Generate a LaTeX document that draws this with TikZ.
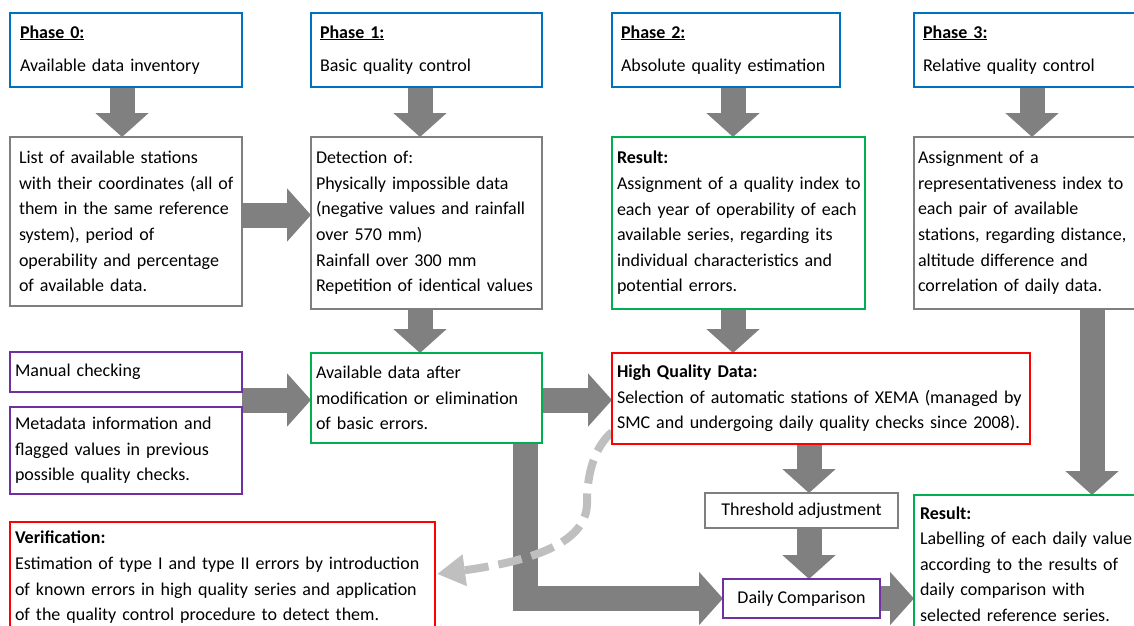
\documentclass[tikz,border=0pt]{standalone}
\usepackage{fontspec}
\setmainfont{Carlito}
\usetikzlibrary{arrows.meta,backgrounds,calc}
\definecolor{cblue}{RGB}{0,112,192}
\definecolor{cgray}{RGB}{127,127,127}
\definecolor{cgreen}{RGB}{0,176,80}
\definecolor{cpurple}{RGB}{112,48,160}
\definecolor{cred}{RGB}{255,0,0}
\definecolor{carrow}{RGB}{128,128,128}
\definecolor{cdash}{RGB}{191,191,191}
\newcommand\txtfont{\fontsize{18pt}{25.6pt}\selectfont}
\newcommand\phase[1]{\underline{\textbf{#1}}}
\begin{document}
\begin{tikzpicture}[x=1pt,y=-1pt,
  box/.style={draw, line width=2.2pt, fill=white, anchor=north west, align=left,
    font=\txtfont, inner xsep=0pt, inner ysep=0pt, outer sep=0pt},
  lpad/.style={execute at begin node={\leftskip=#1pt\rightskip=-60pt plus 1fil}},
  cbox/.style={draw, line width=2.2pt, fill=white, anchor=north west, align=center,
    font=\txtfont, inner sep=0pt, outer sep=0pt},
  bluebox/.style={box, draw=cblue},
  graybox/.style={box, draw=cgray},
  greenbox/.style={box, draw=cgreen},
  purplebox/.style={box, draw=cpurple},
  redbox/.style={box, draw=cred},
  blockarrow/.style={draw=carrow, line width=25pt, -{Triangle[width=52pt,length=24pt]}},
  dasharrow/.style={draw=cdash, line width=8pt, dash pattern=on 24pt off 10pt,
    -{Triangle[width=30pt,length=28pt]}},
]
\useasboundingbox (0,0) rectangle (1134,625);

% phase boxes
\node[bluebox, lpad=10, text width=232pt, minimum height=74pt] (p0) at (10,13)
  {\phase{Phase 0:}\\[8pt]Available data inventory};
\node[bluebox, lpad=9, text width=231pt, minimum height=74pt] (p1) at (311,13)
  {\phase{Phase 1:}\\[8pt]Basic quality control};
\node[bluebox, lpad=9, text width=228pt, minimum height=74pt] (p2) at (612,13)
  {\phase{Phase 2:}\\[8pt]Absolute quality estimation};
\node[bluebox, lpad=9, text width=240pt, minimum height=74pt] (p3) at (914,13)
  {\phase{Phase 3:}\\[8pt]Relative quality control};

% second row
\node[graybox, lpad=9, text width=232pt, minimum height=169pt] (list) at (10,137)
  {List of available stations\\with their coordinates (all of\\them in the same reference\\system), period of\\operability and percentage\\of available data.};
\node[graybox, lpad=5, text width=231pt, minimum height=172pt] (det) at (311,137)
  {Detection of:\\Physically impossible data\\(negative values and rainfall\\over 570 mm)\\Rainfall over 300 mm\\Repetition of identical values};
\node[greenbox, lpad=5, text width=253pt, minimum height=172pt] (res) at (612,137)
  {\textbf{Result:}\\Assignment of a quality index to\\each year of operability of each\\available series, regarding its\\individual characteristics and\\potential errors.};
\node[graybox, lpad=4, text width=240pt, minimum height=172pt] (r3) at (914,137)
  {Assignment of a\\representativeness index to\\each pair of available\\stations, regarding distance,\\altitude difference and\\correlation of daily data.};

% third row
\node[purplebox, lpad=5, text width=232pt, minimum height=40pt] (manual) at (10,352)
  {Manual checking};
\node[purplebox, lpad=5, text width=232pt, minimum height=87pt] (meta) at (10,407)
  {Metadata information and\\flagged values in previous\\possible quality checks.};
\node[greenbox, lpad=5, text width=231pt, minimum height=90pt] (avail) at (311,353)
  {Available data after\\modification or elimination\\of basic errors.};
\node[redbox, lpad=5, text width=418pt, minimum height=91pt] (hq) at (612,353)
  {\textbf{High Quality Data:}\\Selection of automatic stations of XEMA (managed by\\SMC and undergoing daily quality checks since 2008).};

% lower part
\node[cbox, draw=cgray, minimum width=193pt, minimum height=35pt] (thr) at (705,493)
  {Threshold adjustment};
\node[cbox, draw=cpurple, minimum width=157pt, minimum height=39pt] (daily) at (723,579)
  {Daily Comparison};
\node[greenbox, lpad=6, text width=240pt, minimum height=138pt] (fin) at (914,495)
  {\textbf{Result:}\\Labelling of each daily value\\according to the results of\\daily comparison with\\selected reference series.};
\node[redbox, lpad=5, text width=425pt, minimum height=111pt] (ver) at (10,522)
  {\textbf{Verification:}\\Estimation of type I and type II errors by introduction\\of known errors in high quality series and application\\of the quality control procedure to detect them.};

% helper coordinates
\coordinate (c0) at (122,0);
\coordinate (c1) at (420,0);
\coordinate (c2) at (733,0);
\coordinate (c3) at (1032,0);
\coordinate (c3b) at (1092,0);
\coordinate (c4) at (809,0);
\coordinate (cL) at (525,0);
\coordinate (r1) at (0,215);
\coordinate (mm) at (242,400);
\coordinate (dstart) at (612,432);
\coordinate (dend) at (437,574);

\begin{pgfonlayer}{background}
\draw[blockarrow] (p0.south -| c0) -- (list.north -| c0);
\draw[blockarrow] (p1.south -| c1) -- (det.north -| c1);
\draw[blockarrow] (p2.south -| c2) -- (res.north -| c2);
\draw[blockarrow] (p3.south -| c3) -- (r3.north -| c3);
\draw[blockarrow] (list.east |- r1) -- (det.west |- r1);
\draw[blockarrow] (det.south -| c1) -- (avail.north -| c1);
\draw[blockarrow] (res.south -| c2) -- (hq.north -| c2);
\draw[blockarrow] (r3.south -| c3b) -- (fin.north -| c3b);
\draw[blockarrow] (mm) -- (avail.west |- mm);
\draw[blockarrow] (avail.east |- mm) -- (hq.west |- mm);
\draw[blockarrow] (hq.south -| c4) -- (thr.north -| c4);
\draw[blockarrow] (thr.south -| c4) -- (daily.north -| c4);
\draw[blockarrow] (daily.east) -- (fin.west |- daily.east);
\draw[blockarrow, line join=miter] (avail.south -| cL) |- (daily.west);
\draw[dasharrow] (dstart) .. controls (596,446) and (587,470) .. (587,503)
  .. controls (587,540) and (540,560) .. (dend);
\end{pgfonlayer}
\end{tikzpicture}
\end{document}
